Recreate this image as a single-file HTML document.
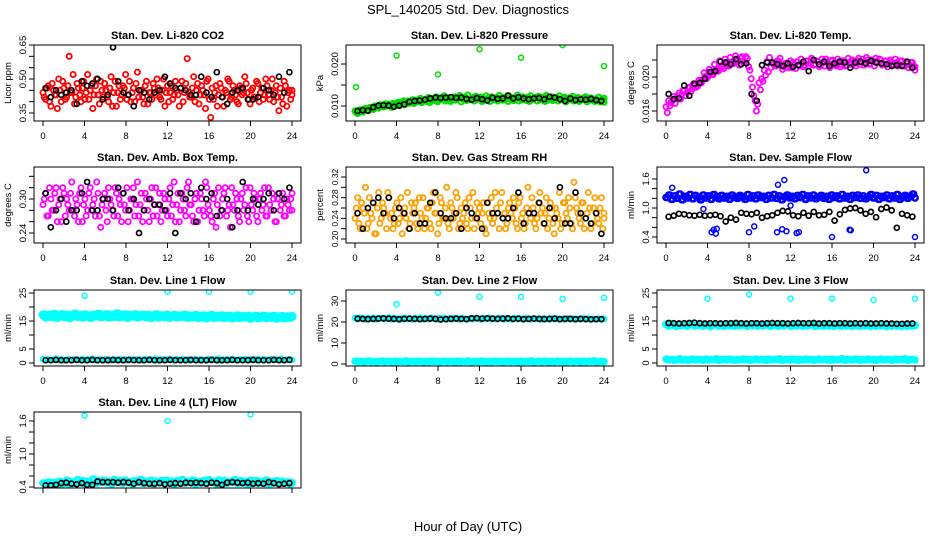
<!DOCTYPE html>
<html><head><meta charset="utf-8">
<style>
html,body{margin:0;padding:0;background:#fff;}
svg{display:block;font-family:"Liberation Sans",sans-serif;}
</style></head>
<body>
<svg id="chart" width="936" height="540" viewBox="0 0 936 540" xmlns="http://www.w3.org/2000/svg">
<text x="468" y="14" font-size="13" text-anchor="middle">SPL_140205  Std. Dev. Diagnostics</text>
<text x="468" y="531" font-size="13" text-anchor="middle">Hour of Day (UTC)</text>
</svg>
<script>
// ---- data ----
const xTicks = [0,4,8,12,16,20,24];
const titles = ["Stan. Dev. Li-820 CO2","Stan. Dev. Li-820 Pressure","Stan. Dev. Li-820 Temp.","Stan. Dev. Amb. Box Temp.","Stan. Dev. Gas Stream RH","Stan. Dev. Sample Flow","Stan. Dev. Line 1 Flow","Stan. Dev. Line 2 Flow","Stan. Dev. Line 3 Flow","Stan. Dev. Line 4 (LT) Flow"];
const yTitles = ["Licor ppm","kPa","degrees C","degrees C","percent","ml/min","ml/min","ml/min","ml/min","ml/min"];
const yTickVals = [[0.35,0.40,0.45,0.50,0.55,0.60,0.65],[0.010,0.015,0.020],[0.016,0.018,0.020,0.022],[0.24,0.26,0.28,0.30,0.32,0.34],[0.20,0.22,0.24,0.26,0.28,0.30,0.32],[0.4,0.6,0.8,1.0,1.2,1.4,1.6],[0,5,10,15,20,25],[0,10,20,30],[0,5,10,15,20,25],[0.4,0.6,0.8,1.0,1.2,1.4,1.6]];
const yTickLabels = [["0.35","","","0.50","","","0.65"],["0.010","","0.020"],["0.016","","0.020",""],["0.24","","","0.30","",""],["0.20","","0.24","","0.28","","0.32"],["0.4","","","1.0","","","1.6"],["0","5","","15","","25"],["0","10","20","30"],["0","5","","15","","25"],["0.4","","","1.0","","","1.6"]];

const co2A = [0.44,0.41,0.47,0.38,0.45,0.43,0.50,0.40,0.46,0.42,0.60,0.44,0.39,0.48,0.43,0.46,0.41,0.52,0.45,0.37,0.47,0.43,0.49,0.42,0.45,0.40,0.51,0.44,0.38,0.47,0.43,0.46,0.41,0.49,0.44,0.40,0.53,0.45,0.42,0.47,0.39,0.44,0.48,0.43,0.46,0.41,0.50,0.44,0.40,0.47,0.43,0.45,0.38,0.49,0.44,0.59,0.42,0.46,0.40,0.48,0.43,0.45,0.37,0.50,0.33,0.41,0.47,0.43,0.46,0.38,0.44,0.49,0.42,0.45,0.40,0.47,0.43,0.51,0.44,0.39,0.46,0.42,0.48,0.44,0.41,0.50,0.43,0.45,0.40,0.47,0.36,0.42,0.49,0.38,0.45,0.43];
const co2B = [0.42,0.46,0.40,0.48,0.43,0.37,0.45,0.49,0.41,0.47,0.44,0.52,0.42,0.46,0.40,0.49,0.44,0.41,0.47,0.43,0.50,0.39,0.45,0.48,0.42,0.46,0.38,0.49,0.44,0.41,0.47,0.52,0.43,0.40,0.46,0.48,0.42,0.45,0.39,0.49,0.44,0.41,0.46,0.50,0.42,0.45,0.38,0.47,0.44,0.41,0.49,0.43,0.46,0.40,0.48,0.44,0.42,0.51,0.45,0.39,0.47,0.43,0.49,0.41,0.46,0.44,0.38,0.48,0.42,0.45,0.50,0.41,0.47,0.43,0.39,0.46,0.44,0.48,0.41,0.45,0.42,0.49,0.40,0.46,0.43,0.47,0.41,0.50,0.44,0.42,0.46,0.39,0.47,0.44,0.41,0.45];
const co2K = [0.46,0.42,0.45,0.43,0.44,0.45,0.39,0.49,0.47,0.48,0.50,0.41,0.43,0.64,0.49,0.44,0.43,0.38,0.45,0.44,0.41,0.44,0.45,0.51,0.48,0.46,0.46,0.45,0.43,0.43,0.51,0.44,0.42,0.53,0.42,0.39,0.44,0.45,0.46,0.41,0.41,0.42,0.46,0.45,0.43,0.51,0.44,0.53];

const presA = [0.0088,0.0082,0.0091,0.0086,0.0094,0.0089,0.0097,0.0092,0.0099,0.0095,0.0102,0.0098,0.0100,0.0104,0.0097,0.0103,0.0106,0.0101,0.0108,0.0103,0.0112,0.0107,0.0115,0.0110,0.0113,0.0118,0.0111,0.0116,0.0120,0.0113,0.0117,0.0122,0.0114,0.0119,0.0124,0.0116,0.0120,0.0115,0.0122,0.0118,0.0125,0.0117,0.0121,0.0126,0.0116,0.0120,0.0123,0.0117,0.0121,0.0116,0.0124,0.0119,0.0122,0.0115,0.0120,0.0125,0.0117,0.0121,0.0118,0.0123,0.0116,0.0120,0.0126,0.0118,0.0122,0.0115,0.0121,0.0124,0.0117,0.0120,0.0123,0.0116,0.0121,0.0125,0.0118,0.0122,0.0116,0.0120,0.0124,0.0117,0.0121,0.0115,0.0119,0.0123,0.0116,0.0120,0.0114,0.0118,0.0122,0.0115,0.0119,0.0113,0.0117,0.0121,0.0115,0.0118];
const presB = [0.0084,0.0090,0.0087,0.0093,0.0090,0.0096,0.0093,0.0100,0.0096,0.0103,0.0099,0.0105,0.0102,0.0099,0.0106,0.0102,0.0109,0.0105,0.0112,0.0109,0.0107,0.0110,0.0106,0.0114,0.0110,0.0108,0.0115,0.0111,0.0108,0.0117,0.0113,0.0110,0.0116,0.0121,0.0112,0.0116,0.0111,0.0118,0.0114,0.0121,0.0110,0.0117,0.0113,0.0115,0.0119,0.0112,0.0116,0.0120,0.0111,0.0117,0.0114,0.0111,0.0119,0.0115,0.0112,0.0118,0.0114,0.0120,0.0111,0.0116,0.0113,0.0118,0.0112,0.0115,0.0119,0.0113,0.0111,0.0116,0.0120,0.0112,0.0115,0.0119,0.0111,0.0114,0.0117,0.0113,0.0118,0.0112,0.0116,0.0120,0.0110,0.0115,0.0118,0.0112,0.0116,0.0111,0.0115,0.0118,0.0110,0.0114,0.0117,0.0111,0.0115,0.0110,0.0114,0.0109];
const presOutH = [0.1,4,8,12,16,20,24];
const presOutV = [0.0145,0.0220,0.0175,0.0235,0.0215,0.0245,0.0195];
const presK = [0.0088,0.0090,0.0089,0.0097,0.0101,0.0102,0.0101,0.0098,0.0101,0.0104,0.0110,0.0112,0.0113,0.0115,0.0118,0.0120,0.0119,0.0120,0.0121,0.0119,0.0120,0.0117,0.0115,0.0119,0.0116,0.0113,0.0120,0.0117,0.0118,0.0125,0.0118,0.0121,0.0118,0.0116,0.0118,0.0119,0.0116,0.0122,0.0120,0.0116,0.0112,0.0118,0.0114,0.0116,0.0115,0.0117,0.0114,0.0112];

const tempA = [0.0165,0.0172,0.0170,0.0177,0.0175,0.0181,0.0179,0.0184,0.0182,0.0188,0.0186,0.0190,0.0189,0.0194,0.0197,0.0201,0.0200,0.0205,0.0203,0.0209,0.0207,0.0212,0.0210,0.0215,0.0213,0.0218,0.0216,0.0221,0.0214,0.0224,0.0218,0.0222,0.0208,0.0188,0.0172,0.0168,0.0185,0.0195,0.0202,0.0206,0.0211,0.0215,0.0213,0.0218,0.0214,0.0212,0.0216,0.0213,0.0211,0.0215,0.0218,0.0213,0.0217,0.0214,0.0219,0.0216,0.0220,0.0215,0.0218,0.0214,0.0217,0.0221,0.0215,0.0219,0.0216,0.0213,0.0218,0.0215,0.0219,0.0214,0.0217,0.0220,0.0216,0.0219,0.0215,0.0221,0.0217,0.0220,0.0216,0.0219,0.0222,0.0217,0.0220,0.0215,0.0219,0.0216,0.0218,0.0214,0.0217,0.0215,0.0219,0.0213,0.0216,0.0214,0.0217,0.0212];
const tempB = [0.0158,0.0166,0.0173,0.0169,0.0178,0.0174,0.0184,0.0178,0.0187,0.0183,0.0192,0.0188,0.0196,0.0193,0.0205,0.0198,0.0209,0.0203,0.0215,0.0208,0.0219,0.0212,0.0221,0.0214,0.0223,0.0217,0.0225,0.0219,0.0222,0.0217,0.0224,0.0212,0.0198,0.0178,0.0160,0.0193,0.0198,0.0208,0.0218,0.0223,0.0217,0.0213,0.0219,0.0222,0.0209,0.0216,0.0211,0.0219,0.0217,0.0210,0.0214,0.0221,0.0212,0.0219,0.0213,0.0222,0.0214,0.0219,0.0212,0.0221,0.0213,0.0218,0.0211,0.0220,0.0214,0.0221,0.0212,0.0219,0.0213,0.0222,0.0215,0.0218,0.0213,0.0222,0.0218,0.0214,0.0223,0.0215,0.0220,0.0213,0.0218,0.0221,0.0214,0.0219,0.0212,0.0220,0.0215,0.0221,0.0213,0.0219,0.0214,0.0218,0.0211,0.0217,0.0212,0.0208];
const tempK = [0.0180,0.0174,0.0175,0.0190,0.0178,0.0192,0.0193,0.0198,0.0206,0.0207,0.0218,0.0217,0.0215,0.0221,0.0215,0.0216,0.0180,0.0172,0.0214,0.0217,0.0217,0.0215,0.0213,0.0216,0.0212,0.0214,0.0218,0.0207,0.0220,0.0215,0.0218,0.0213,0.0216,0.0218,0.0217,0.0211,0.0217,0.0218,0.0216,0.0219,0.0217,0.0216,0.0215,0.0213,0.0214,0.0213,0.0218,0.0211];

const boxA = [0.29,0.31,0.27,0.30,0.28,0.32,0.29,0.26,0.31,0.30,0.28,0.33,0.27,0.29,0.31,0.26,0.30,0.28,0.32,0.29,0.27,0.31,0.25,0.30,0.28,0.32,0.29,0.27,0.31,0.30,0.26,0.29,0.32,0.28,0.30,0.27,0.33,0.29,0.26,0.31,0.28,0.30,0.27,0.32,0.29,0.26,0.31,0.28,0.30,0.27,0.33,0.29,0.26,0.31,0.28,0.32,0.29,0.27,0.30,0.26,0.31,0.28,0.33,0.29,0.27,0.30,0.25,0.32,0.28,0.31,0.27,0.29,0.32,0.28,0.30,0.26,0.31,0.29,0.27,0.32,0.28,0.30,0.26,0.31,0.29,0.27,0.32,0.28,0.30,0.26,0.31,0.29,0.27,0.30,0.28,0.31];
const boxB = [0.30,0.27,0.32,0.28,0.31,0.26,0.30,0.32,0.27,0.29,0.31,0.28,0.30,0.26,0.32,0.29,0.27,0.31,0.28,0.30,0.33,0.27,0.29,0.31,0.26,0.30,0.28,0.32,0.27,0.29,0.31,0.28,0.26,0.30,0.32,0.29,0.27,0.31,0.28,0.30,0.26,0.32,0.29,0.27,0.31,0.28,0.30,0.27,0.32,0.29,0.26,0.31,0.28,0.30,0.27,0.33,0.29,0.26,0.31,0.28,0.30,0.27,0.32,0.28,0.26,0.31,0.29,0.27,0.30,0.32,0.28,0.25,0.29,0.31,0.27,0.30,0.28,0.32,0.26,0.29,0.31,0.27,0.30,0.28,0.32,0.27,0.29,0.31,0.26,0.30,0.28,0.31,0.27,0.29,0.30,0.28];
const boxK = [0.31,0.25,0.28,0.30,0.26,0.28,0.28,0.31,0.33,0.28,0.28,0.30,0.30,0.28,0.32,0.31,0.28,0.30,0.24,0.28,0.30,0.29,0.29,0.28,0.31,0.24,0.31,0.30,0.31,0.26,0.32,0.30,0.31,0.27,0.28,0.30,0.25,0.28,0.33,0.28,0.30,0.29,0.30,0.31,0.28,0.31,0.30,0.32];

const rhA = [0.24,0.28,0.22,0.26,0.30,0.23,0.25,0.27,0.21,0.29,0.24,0.26,0.22,0.28,0.25,0.23,0.27,0.24,0.21,0.26,0.29,0.23,0.25,0.27,0.22,0.25,0.28,0.24,0.26,0.22,0.29,0.25,0.23,0.27,0.24,0.30,0.22,0.26,0.25,0.28,0.23,0.24,0.27,0.22,0.26,0.29,0.24,0.25,0.23,0.27,0.21,0.25,0.28,0.24,0.26,0.22,0.29,0.25,0.23,0.27,0.24,0.26,0.22,0.28,0.25,0.23,0.30,0.24,0.26,0.22,0.27,0.25,0.23,0.28,0.24,0.26,0.21,0.25,0.29,0.23,0.27,0.24,0.26,0.22,0.28,0.25,0.23,0.27,0.24,0.29,0.22,0.26,0.25,0.23,0.28,0.24];
const rhB = [0.26,0.23,0.27,0.25,0.22,0.28,0.24,0.21,0.26,0.23,0.27,0.25,0.29,0.24,0.22,0.26,0.23,0.28,0.25,0.24,0.22,0.27,0.26,0.23,0.28,0.24,0.22,0.26,0.23,0.27,0.25,0.21,0.28,0.24,0.26,0.23,0.27,0.24,0.29,0.22,0.26,0.25,0.23,0.28,0.24,0.22,0.27,0.26,0.25,0.22,0.27,0.24,0.23,0.29,0.25,0.27,0.24,0.22,0.26,0.25,0.28,0.23,0.27,0.24,0.22,0.26,0.25,0.28,0.23,0.24,0.29,0.26,0.25,0.22,0.27,0.23,0.26,0.24,0.22,0.27,0.25,0.28,0.23,0.31,0.26,0.24,0.27,0.22,0.25,0.26,0.23,0.28,0.24,0.26,0.22,0.25];
const rhK = [0.25,0.22,0.26,0.27,0.28,0.25,0.28,0.24,0.26,0.25,0.22,0.25,0.23,0.23,0.27,0.29,0.25,0.24,0.24,0.25,0.22,0.26,0.25,0.24,0.22,0.27,0.25,0.25,0.24,0.24,0.26,0.29,0.23,0.25,0.25,0.27,0.23,0.26,0.24,0.30,0.23,0.23,0.29,0.25,0.24,0.23,0.25,0.21];

const flowA = [1.22,1.27,1.18,1.25,1.20,1.29,1.17,1.24,1.21,1.28,1.19,1.26,1.22,1.17,1.27,1.21,1.25,1.18,1.28,1.23,1.19,1.26,1.21,1.24,1.18,1.27,1.22,1.20,1.26,1.23,1.18,1.28,1.21,1.25,1.19,1.27,1.22,1.24,1.18,1.26,1.21,1.28,1.20,1.25,1.17,1.23,1.27,1.21,1.24,1.19,1.26,1.22,1.28,1.18,1.25,1.21,1.27,1.19,1.23,1.26,1.20,1.24,1.18,1.27,1.22,1.25,1.19,1.28,1.21,1.24,1.18,1.26,1.22,1.27,1.20,1.25,1.19,1.23,1.28,1.21,1.26,1.18,1.24,1.22,1.27,1.19,1.25,1.21,1.28,1.18,1.23,1.26,1.20,1.24,1.29,1.21];
const flowOutH = [0.6,3.6,4.4,4.6,4.8,4.9,8.0,8.5,10.7,11.2,11.6,12.6,12.8,16.0,17.7,17.8,19.3,24.0,10.8,11.4,12.0];
const flowOutV = [1.42,0.98,0.50,0.55,0.47,0.57,0.50,0.62,0.50,0.56,0.52,0.48,0.50,0.40,0.55,0.54,1.78,0.40,1.48,1.58,1.05];
const flowK = [0.82,0.84,0.88,0.87,0.85,0.84,0.86,0.84,0.85,0.86,0.83,0.72,0.80,0.76,0.90,0.88,0.87,0.90,0.80,0.83,0.85,0.90,0.94,0.93,0.85,0.83,0.90,0.84,0.92,0.85,0.86,0.92,0.74,0.87,0.96,0.99,1.00,0.95,0.88,0.92,0.81,0.98,1.01,0.95,0.59,0.88,0.85,0.82];

const l1Hi = [17.2,16.4,17.0,16.6,17.4,16.3,16.9,17.3,16.5,17.1,16.2,16.8,17.5,16.6,17.0,16.4,17.2,16.7,16.3,17.1,16.8,17.4,16.5,16.9,17.3,16.4,17.0,16.6,17.6,16.5,16.9,17.2,16.3,17.0,16.7,17.3,16.4,16.9,17.1,16.5,17.0,16.2,16.8,17.2,16.4,16.9,16.6,17.1,16.3,16.8,17.0,16.4,16.9,16.6,17.1,16.3,16.8,16.5,17.0,16.2,16.7,16.9,16.1,16.6,17.0,16.3,16.7,16.5,16.9,16.2,16.6,16.8,16.1,16.5,16.9,16.2,16.6,16.4,16.8,16.0,16.5,16.7,16.1,16.4,16.8,16.2,16.5,16.3,16.7,16.0,16.4,16.6,16.1,16.5,16.3,16.6];
const l1Lo = [1.4,1.1,1.3,1.0,1.2,1.5,1.1,1.3,1.0,1.2,1.4,1.1,1.3,1.2,1.0,1.4,1.1,1.3,1.2,1.5,1.0,1.2,1.3,1.1,1.4,1.2,1.0,1.3,1.1,1.4,1.2,1.3,1.0,1.2,1.4,1.1,1.3,1.2,1.0,1.4,1.1,1.3,1.2,1.5,1.0,1.2,1.3,1.1,1.4,1.2,1.0,1.3,1.1,1.4,1.2,1.3,1.0,1.2,1.4,1.1,1.3,1.2,1.0,1.4,1.1,1.3,1.2,1.5,1.0,1.2,1.3,1.1,1.4,1.2,1.0,1.3,1.1,1.4,1.2,1.3,1.0,1.2,1.4,1.1,1.3,1.2,1.0,1.4,1.1,1.3,1.2,1.5,1.0,1.2,1.3,1.1];
const l1OutH = [4,8,12,16,20,24];
const l1OutV = [24,27,25.5,25.5,25.5,25.5];
const l1K = [1.0,1.0,1.1,1.0,1.0,1.0,1.1,1.0,1.0,1.1,1.0,1.0,1.0,1.1,1.0,1.0,1.1,1.0,1.0,1.0,1.1,1.0,1.0,1.0,1.1,1.0,1.0,1.0,1.1,1.0,1.0,1.0,1.1,1.0,1.0,1.0,1.1,1.0,1.0,1.0,1.1,1.0,1.0,1.0,1.1,1.0,1.0,1.1];

const l2Hi = [21.9,21.4,22.1,21.6,21.2,21.8,21.5,22.0,21.3,21.7,21.9,21.4,21.6,22.1,21.3,21.8,21.5,21.1,21.7,21.9,21.4,21.6,21.2,21.8,21.5,22.0,21.3,21.7,21.4,21.9,21.6,21.2,21.8,21.5,22.0,21.3,21.7,21.4,21.9,21.6,21.2,21.8,21.5,21.3,21.7,21.4,21.9,21.6,21.2,21.8,21.5,22.0,21.3,21.7,21.4,21.9,21.6,21.2,21.8,21.5,21.3,21.7,21.4,21.6,21.2,21.8,21.5,21.3,21.7,21.4,21.6,21.2,21.8,21.5,21.3,21.7,21.4,21.6,21.2,21.5,21.3,21.7,21.4,21.6,21.2,21.5,21.3,21.7,21.4,21.6,21.2,21.5,21.3,21.6,21.4,21.5];
const l2Lo = l1Lo;
const l2OutH = [4,8,12,16,20,24];
const l2OutV = [28.5,34,32,32,31,31.5];
const l2K = [21.6,21.5,21.4,21.5,21.6,21.7,21.6,21.5,21.4,21.5,21.6,21.5,21.4,21.5,21.6,21.5,21.2,21.4,21.5,21.6,21.5,21.4,21.7,21.8,21.6,21.7,21.6,21.5,21.6,21.7,21.5,21.6,21.4,21.5,21.6,21.5,21.4,21.5,21.6,21.4,21.5,21.5,21.4,21.5,21.4,21.3,21.4,21.4];

const l3Hi = [13.8,13.2,14.0,13.5,13.1,13.7,13.4,13.9,13.2,13.6,13.8,13.3,13.5,14.0,13.2,13.7,13.4,13.0,13.6,13.8,13.3,13.5,13.1,13.7,13.4,13.9,13.2,13.6,13.3,13.8,13.5,13.1,13.7,13.4,13.9,13.2,13.6,13.3,13.8,13.5,13.1,13.7,13.4,13.2,13.6,13.3,13.8,13.5,13.1,13.7,13.4,13.9,13.2,13.6,13.3,13.8,13.5,13.1,13.7,13.4,13.2,13.6,13.3,13.5,13.1,13.7,13.4,13.2,13.6,13.3,13.5,13.1,13.7,13.4,13.2,13.6,13.3,13.5,13.1,13.4,13.2,13.6,13.3,13.5,13.1,13.4,13.2,13.6,13.3,13.5,13.1,13.4,13.2,13.5,13.3,13.4];
const l3Lo = l1Lo;
const l3OutH = [4,8,12,16,20,24];
const l3OutV = [23,24.5,23,23,22.5,23];
const l3K = [14.3,14.2,14.1,14.2,14.3,14.4,14.2,14.1,14.2,14.2,14.1,14.2,14.2,14.3,14.2,14.1,14.2,14.2,14.1,14.2,14.3,14.2,14.2,14.1,14.2,14.3,14.2,14.2,14.3,14.1,14.2,14.2,14.1,14.2,14.2,14.1,14.2,14.1,14.2,14.1,14.1,14.2,14.1,14.1,14.0,14.0,14.1,14.1];

const l4A = [0.47,0.44,0.49,0.45,0.48,0.43,0.50,0.46,0.47,0.52,0.45,0.49,0.47,0.53,0.48,0.51,0.46,0.50,0.48,0.54,0.47,0.51,0.49,0.52,0.48,0.50,0.46,0.53,0.49,0.51,0.47,0.52,0.48,0.50,0.46,0.51,0.49,0.53,0.47,0.50,0.48,0.52,0.46,0.50,0.49,0.51,0.47,0.52,0.48,0.50,0.46,0.51,0.48,0.53,0.47,0.50,0.49,0.52,0.46,0.50,0.48,0.51,0.47,0.53,0.49,0.50,0.46,0.52,0.48,0.51,0.47,0.50,0.49,0.53,0.47,0.51,0.48,0.50,0.46,0.52,0.48,0.51,0.47,0.50,0.49,0.52,0.46,0.50,0.48,0.51,0.47,0.50,0.48,0.49,0.46,0.48];
const l4OutH = [4,12,20];
const l4OutV = [1.70,1.60,1.72];
const l4K = [0.43,0.43,0.44,0.47,0.48,0.46,0.45,0.47,0.44,0.44,0.50,0.49,0.49,0.49,0.48,0.49,0.48,0.46,0.49,0.47,0.46,0.46,0.47,0.45,0.46,0.47,0.46,0.48,0.47,0.48,0.47,0.46,0.48,0.47,0.44,0.48,0.49,0.48,0.47,0.48,0.46,0.47,0.46,0.49,0.47,0.45,0.46,0.47];

// ---- layout / axis functions ----
const SVGNS = "http://www.w3.org/2000/svg";
const svg = document.getElementById('chart');
const colLeft = [34,346,657], rowTop = [45,167,290,412], W = 267, H = 76;
const yCal = [[0.35,68,0.65,0],[0.010,61,0.020,19],[0.016,66,0.020,32],[0.24,66,0.30,32],[0.20,72,0.32,10],[0.4,70,1.6,12],[0,73,25,3],[0,74,30,11],[0,73,25,3],[0.4,75,1.6,9]];

function mk(tag, attrs, parent){ const e=document.createElementNS(SVGNS,tag); for(const k in attrs) e.setAttribute(k,attrs[k]); (parent||svg).appendChild(e); return e; }

function panel(p){
  const L = colLeft[p%3], T = rowTop[Math.floor(p/3)];
  const g = mk('g',{});
  
  
  const xs = h => L + 9 + h/24*(W-18);
  const c = yCal[p];
  const ys = v => T + c[1] + (v - c[0])/(c[2]-c[0])*(c[3]-c[1]);
  const t = mk('text',{x:L+W/2,y:T-6,'font-size':11,'font-weight':'bold','text-anchor':'middle'},g);
  t.textContent = titles[p];
  
  
  const yt = mk('text',{x:0,y:0,'font-size':9.5,'text-anchor':'middle',transform:`translate(${L-23},${T+H/2}) rotate(-90)`},g);
  yt.textContent = yTitles[p];
  
  
  const tv = yTickVals[p];
  mk('line',{x1:L,x2:L,y1:ys(tv[0]),y2:ys(tv[tv.length-1]),stroke:'#000','stroke-width':1},g);
  tv.forEach((v,i)=>{
    const y = ys(v);
    mk('line',{x1:L-5,x2:L,y1:y,y2:y,stroke:'#000','stroke-width':1},g);
    if(yTickLabels[p][i]){
      const lb = mk('text',{x:0,y:0,'font-size':p===4?8.5:9.5,'text-anchor':'middle',transform:`translate(${L-8},${y}) rotate(-90)`},g);
      lb.textContent = yTickLabels[p][i];
      
      
    }
  });
  xTicks.forEach(h=>{
    const x = xs(h);
    mk('line',{x1:x,x2:x,y1:T+H,y2:T+H+5,stroke:'#000','stroke-width':1},g);
    if(p!==9){
      const lb = mk('text',{x:x,y:T+H+18,'font-size':9.5,'text-anchor':'middle'},g);
      lb.textContent = h;
      
      
    }
  });
  const pts = mk('g',{},g);
  
  
  const clip = 'clip'+p;
  const cp = mk('clipPath',{id:clip},g); mk('rect',{x:L,y:T,width:W,height:H},cp);
  pts.setAttribute('clip-path','url(#'+clip+')');
  const box = mk('rect',{x:L,y:T,width:W,height:H,fill:'none',stroke:'#000','stroke-width':1},g);
  
  
  return {xs, ys, pts};
}
function dot(P, h, v, col, sw, r){
  const c = mk('circle',{cx:P.xs(h).toFixed(1),cy:P.ys(v).toFixed(1),r:r||2.5,fill:'none',stroke:col,'stroke-width':sw||1.6},P.pts);
  
  
}
// off = fraction of a step to shift, so two arrays interleave in time
function cloud(P, arr, col, sw, r, off){ const n=arr.length-1; arr.forEach((v,i)=>dot(P, Math.min(24,(i+(off||0))*24/n), v, col, sw, r)); }
function black(P, arr){ arr.forEach((v,i)=>dot(P, (i+0.5)*24/arr.length, v, '#000', 1.7)); }
function outl(P, hs, vs, col){ hs.forEach((h,i)=>dot(P, h, vs[i], col, 1.5)); }

let P;
P = panel(0); cloud(P,co2A,'#ff0000',1.8,2.6); cloud(P,co2B,'#ff0000',1.8,2.6,0.5); black(P,co2K);
P = panel(1); cloud(P,presA,'#00e000',2,2.6); cloud(P,presB,'#00e000',2,2.6,0.5); outl(P,presOutH,presOutV,'#00e000'); black(P,presK);
P = panel(2); cloud(P,tempA,'#ff00ff',1.8,2.6); cloud(P,tempB,'#ff00ff',1.8,2.6,0.5); black(P,tempK);
P = panel(3); cloud(P,boxA,'#ff00ff',1.8,2.6); cloud(P,boxB,'#ff00ff',1.8,2.6,0.5); black(P,boxK);
P = panel(4); cloud(P,rhA,'#ffa000',1.8,2.6); cloud(P,rhB,'#ffa000',1.8,2.6,0.5); black(P,rhK);
P = panel(5); cloud(P,flowA,'#0000ff',2.2,2.7); cloud(P,flowA,'#0000ff',2.2,2.7,0.5); outl(P,flowOutH,flowOutV,'#0000ff'); black(P,flowK);
P = panel(6); cloud(P,l1Hi,'#00ffff',2.6,3.2); cloud(P,l1Hi,'#00ffff',2.6,3.2,0.5); cloud(P,l1Lo,'#00ffff',2,2.4); outl(P,l1OutH,l1OutV,'#00ffff'); black(P,l1K);
P = panel(7); cloud(P,l2Hi,'#00ffff',2,2.4); cloud(P,l2Lo,'#00ffff',2.2,2.6); cloud(P,l2Lo,'#00ffff',2.2,2.6,0.5); outl(P,l2OutH,l2OutV,'#00ffff'); black(P,l2K);
P = panel(8); cloud(P,l3Hi,'#00ffff',2.4,2.8); cloud(P,l3Lo,'#00ffff',2.2,2.6); cloud(P,l3Lo,'#00ffff',2.2,2.6,0.5); outl(P,l3OutH,l3OutV,'#00ffff'); black(P,l3K);
P = panel(9); cloud(P,l4A,'#00ffff',2.2,2.8); cloud(P,l4A,'#00ffff',2.2,2.8,0.5); outl(P,l4OutH,l4OutV,'#00ffff'); black(P,l4K);
</script>
</body></html>
